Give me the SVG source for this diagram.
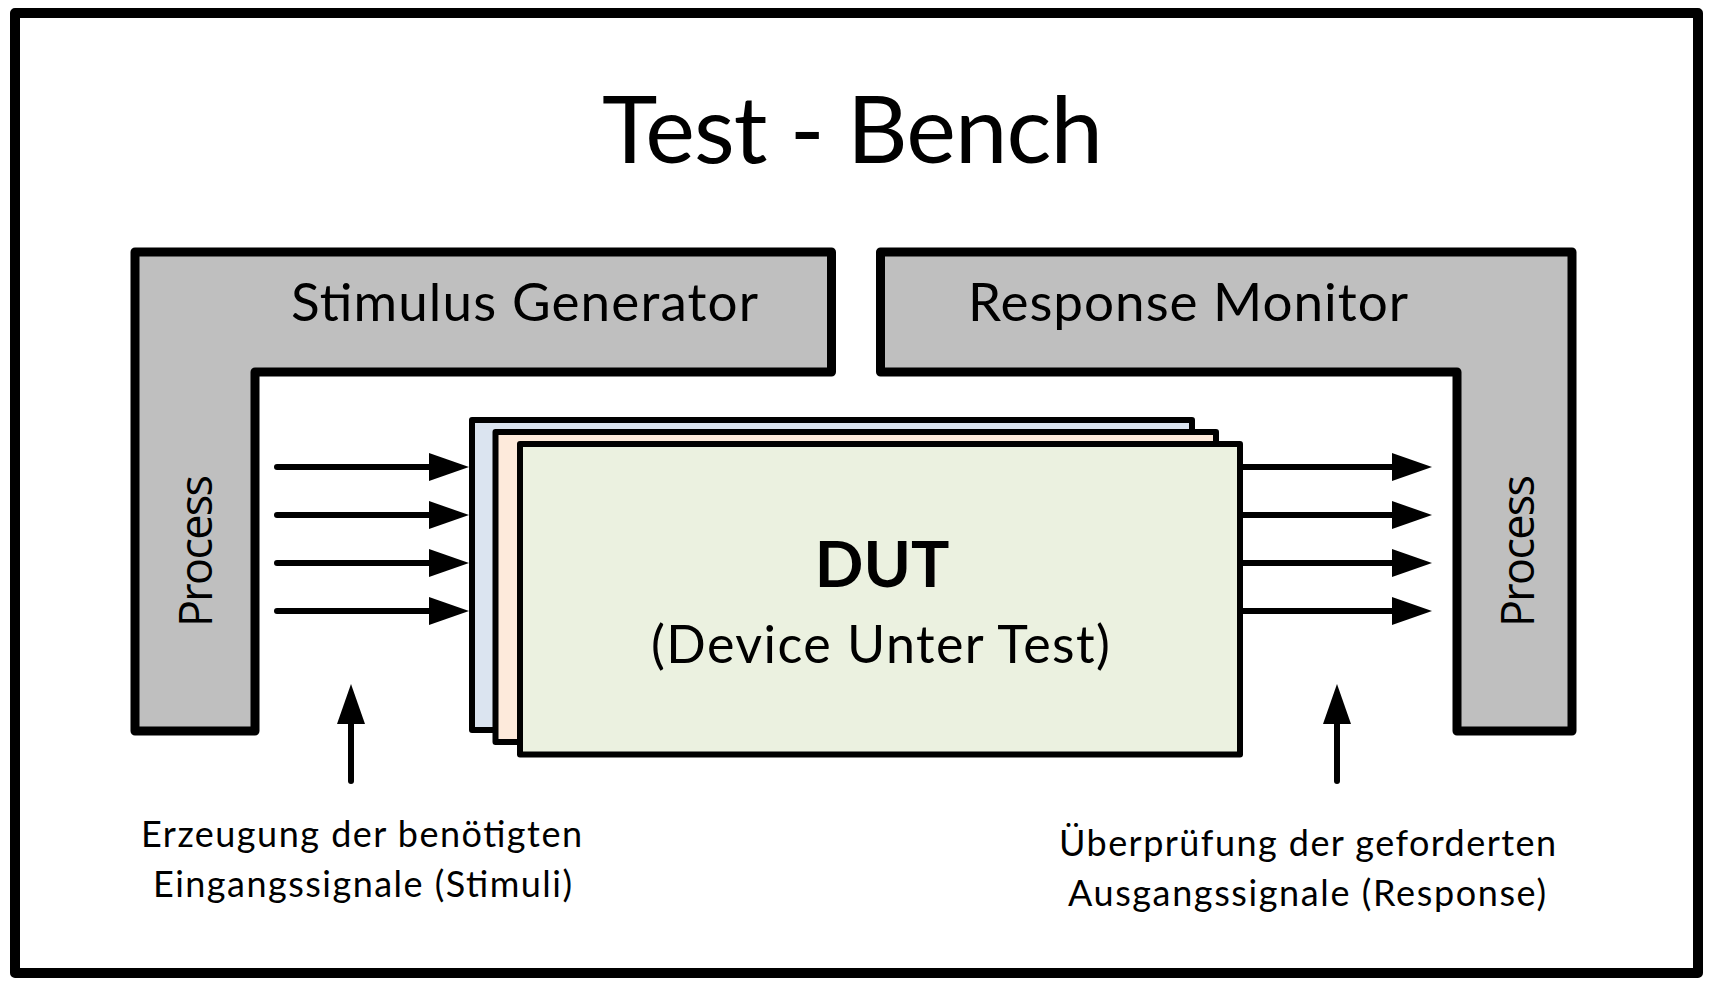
<svg xmlns="http://www.w3.org/2000/svg" width="1716" height="986" viewBox="0 0 1716 986">
  <style>
    .lbl { font-family: Lato, "Open Sans", "Liberation Sans", sans-serif; fill: #000; }
    .proc { font-family: "Open Sans", "DejaVu Sans", sans-serif; font-size: 45px; fill: #000; }
    .frame { fill: #bfbfbf; stroke: #000; stroke-width: 9; stroke-linejoin: round; }
    .card { stroke: #000; stroke-width: 6; stroke-linejoin: round; }
    .wire { stroke: #000; stroke-width: 6; stroke-linecap: round; fill: none; }
  </style>
  <defs>
    <marker id="ah" markerUnits="userSpaceOnUse" viewBox="0 0 40 28" markerWidth="40" markerHeight="28" refX="0" refY="14" orient="auto">
      <path d="M0,0 L40,14 L0,28 Z" fill="#000"/>
    </marker>
  </defs>

  <rect x="0" y="0" width="1716" height="986" fill="#fff"/>

  <g id="testbench">
    <rect x="15" y="13" width="1683" height="960" fill="#fff" stroke="#000" stroke-width="10" stroke-linejoin="round"/>
    <text class="lbl" x="852.5" y="162.5" font-size="94" text-anchor="middle" textLength="501">Test - Bench</text>
  </g>

  <g id="stimulus-generator">
    <path class="frame" d="M135,252 H831.5 V372 H255 V731 H135 Z"/>
    <text class="lbl" x="524.5" y="321" font-size="53" text-anchor="middle" textLength="467">Stimulus Generator</text>
    <text class="proc" transform="translate(212,627) rotate(-90)" x="0" y="0" textLength="152">Process</text>
  </g>

  <g id="response-monitor">
    <path class="frame" d="M880.5,252 H1572 V731 H1457 V372 H880.5 Z"/>
    <text class="lbl" x="1188" y="321" font-size="53" text-anchor="middle" textLength="440">Response Monitor</text>
    <text class="proc" transform="translate(1534,627) rotate(-90)" x="0" y="0" textLength="152">Process</text>
  </g>

  <g id="dut">
    <rect class="card" x="472" y="420" width="720" height="310" fill="#dbe4f0"/>
    <rect class="card" x="495.5" y="432" width="720.5" height="310" fill="#fdeadb"/>
    <rect class="card" x="520" y="444" width="720" height="310.5" fill="#ebf1e0"/>
    <text class="lbl" x="882" y="587" font-size="64" font-weight="bold" text-anchor="middle">DUT</text>
    <text class="lbl" x="880.5" y="663" font-size="52" text-anchor="middle" textLength="459">(Device Unter Test)</text>
  </g>

  <g id="stimuli-note">
    <text class="lbl" x="361.5" y="847" font-size="36" text-anchor="middle" textLength="441">Erzeugung der benötigten</text>
    <text class="lbl" x="362.5" y="897" font-size="36" text-anchor="middle" textLength="419">Eingangssignale (Stimuli)</text>
  </g>

  <g id="response-note">
    <text class="lbl" x="1307.5" y="856" font-size="36" text-anchor="middle" textLength="497">Überprüfung der geforderten</text>
    <text class="lbl" x="1307" y="906" font-size="36" text-anchor="middle" textLength="478">Ausgangssignale (Response)</text>
  </g>

  <g id="connectors">
    <line class="wire" x1="277" y1="467" x2="429" y2="467" marker-end="url(#ah)"/>
    <line class="wire" x1="277" y1="515" x2="429" y2="515" marker-end="url(#ah)"/>
    <line class="wire" x1="277" y1="563" x2="429" y2="563" marker-end="url(#ah)"/>
    <line class="wire" x1="277" y1="611" x2="429" y2="611" marker-end="url(#ah)"/>
    <line class="wire" x1="1243" y1="467" x2="1392" y2="467" stroke-linecap="butt" marker-end="url(#ah)"/>
    <line class="wire" x1="1243" y1="515" x2="1392" y2="515" stroke-linecap="butt" marker-end="url(#ah)"/>
    <line class="wire" x1="1243" y1="563" x2="1392" y2="563" stroke-linecap="butt" marker-end="url(#ah)"/>
    <line class="wire" x1="1243" y1="611" x2="1392" y2="611" stroke-linecap="butt" marker-end="url(#ah)"/>
    <line class="wire" x1="351" y1="781" x2="351" y2="724" marker-end="url(#ah)"/>
    <line class="wire" x1="1337" y1="781" x2="1337" y2="724" marker-end="url(#ah)"/>
  </g>
</svg>
